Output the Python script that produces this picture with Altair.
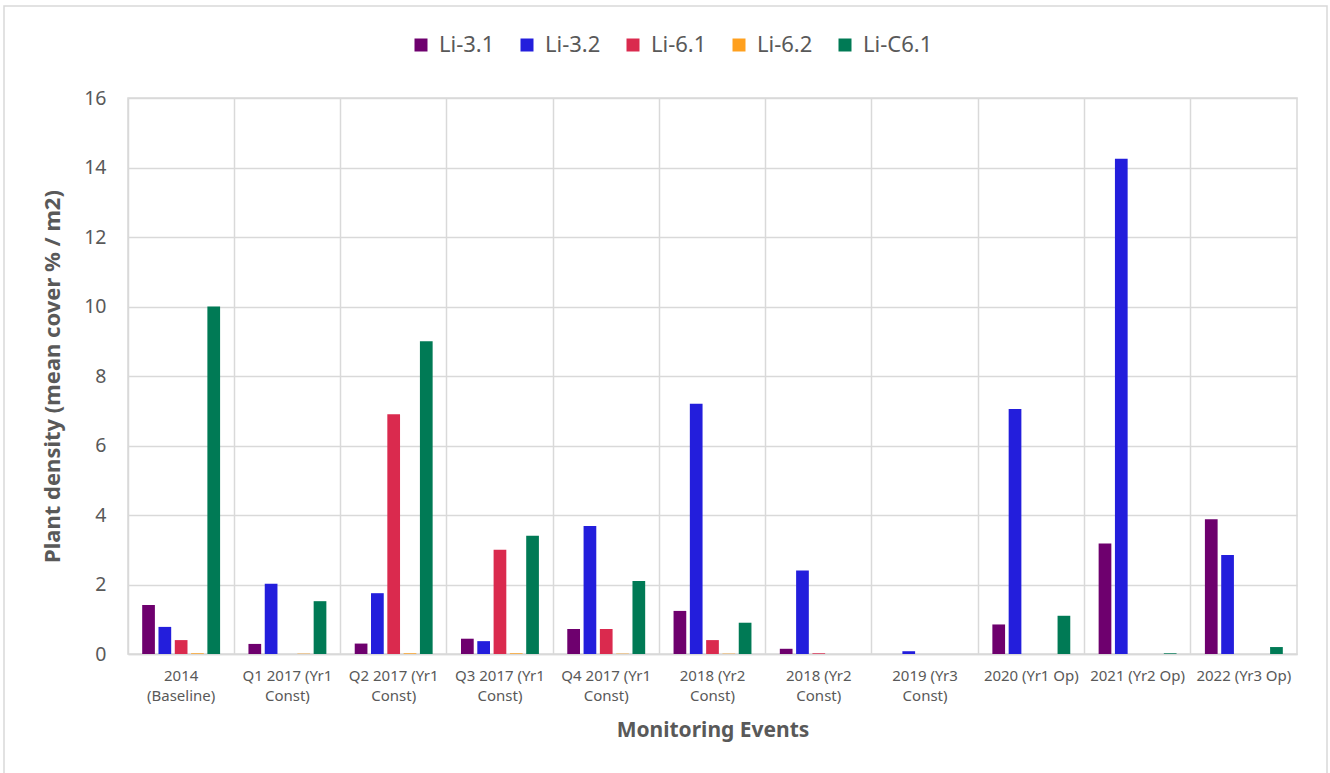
import json
import altair as alt
import pandas as pd

events = ["2014|(Baseline)", "Q1 2017 (Yr1|Const)", "Q2 2017 (Yr1|Const)",
          "Q3 2017 (Yr1|Const)", "Q4 2017 (Yr1|Const)", "2018 (Yr2|Const)",
          "2018 (Yr2|Const)", "2019 (Yr3|Const)", "2020 (Yr1 Op)",
          "2021 (Yr2 Op)", "2022 (Yr3 Op)"]
series = ["Li-3.1", "Li-3.2", "Li-6.1", "Li-6.2", "Li-C6.1"]
colors = ["#6E006E", "#231EDC", "#DA2A4E", "#FFA01E", "#007A55"]

li_3_1 = [1.41, 0.29, 0.30, 0.44, 0.72, 1.24, 0.15, 0.0, 0.85, 3.18, 3.88]
li_3_2 = [0.78, 2.02, 1.75, 0.37, 3.68, 7.20, 2.40, 0.08, 7.05, 14.25, 2.85]
li_6_1 = [0.40, 0.0, 6.90, 3.00, 0.72, 0.40, 0.02, 0.0, 0.0, 0.0, 0.0]
li_6_2 = [0.02, 0.01, 0.02, 0.02, 0.01, 0.01, 0.0, 0.0, 0.0, 0.0, 0.0]
li_c6_1 = [10.0, 1.52, 9.0, 3.40, 2.10, 0.90, 0.0, 0.0, 1.10, 0.02, 0.20]

values = [li_3_1, li_3_2, li_6_1, li_6_2, li_c6_1]
rows = []
for s, vals in zip(series, values):
    for i, v in enumerate(vals):
        rows.append({"idx": i, "series": s, "value": v})
df = pd.DataFrame(rows)

FONT = "Noto Sans"
GREY = "#595959"
W, H = 1169, 556
L, T = 128, 98

label_expr = f"split({json.dumps(events)}[datum.value], '|')"

bars = alt.Chart(df).mark_bar().encode(
    x=alt.X("idx:O", title="Monitoring Events",
            scale=alt.Scale(paddingInner=0, paddingOuter=0),
            axis=alt.Axis(labelExpr=label_expr, labelAngle=0, labelFontSize=15,
                          labelColor=GREY, labelFont=FONT, labelLineHeight=20,
                          labelPadding=14, ticks=False, grid=True, bandPosition=0,
                          gridColor="#d9d9d9", gridWidth=1.5, domainColor="#d9d9d9",
                          domainWidth=1.5, titleFontSize=21, titleFont=FONT,
                          titleColor=GREY, titleFontWeight="bold", titlePadding=16)),
    xOffset=alt.XOffset("series:N", sort=series,
                        scale=alt.Scale(paddingInner=0.22, paddingOuter=0.87)),
    y=alt.Y("value:Q", title="Plant density (mean cover % / m2)",
            scale=alt.Scale(domain=[0, 16], nice=False),
            axis=alt.Axis(values=list(range(0, 17, 2)), labelFontSize=19.5,
                          labelColor=GREY, labelFont=FONT, labelPadding=22,
                          ticks=False, domain=False, gridColor="#d9d9d9",
                          gridWidth=1.5, titleFontSize=22, titleFont=FONT,
                          titleColor=GREY, titleFontWeight="bold", titlePadding=19)),
    color=alt.Color("series:N", sort=series,
                    scale=alt.Scale(domain=series, range=colors),
                    legend=alt.Legend(title=None, orient="none", direction="horizontal",
                                      legendX=282, legendY=-64, symbolType="square",
                                      symbolSize=169, symbolStrokeWidth=0,
                                      labelFontSize=22, labelFont=FONT,
                                      labelColor=GREY, labelOffset=7,
                                      columnPadding=21)),
)

border = alt.Chart(pd.DataFrame({"a": [0]})).mark_rect(
    fill=None, stroke="#d9d9d9", strokeWidth=1.5
).encode(
    x=alt.value(4 - L), x2=alt.value(1327 - L),
    y=alt.value(6 - T), y2=alt.value(800 - T),
)

chart = alt.layer(border, bars).properties(
    width=W, height=H,
    autosize=alt.AutoSizeParams(type="none"),
    padding={"left": L, "top": T, "right": 1330 - L - W, "bottom": 773 - T - H},
    background="white",
).configure_view(stroke="#d9d9d9", strokeWidth=1.5)

chart.save("out.html", embed_options={"renderer": "svg", "actions": False})
